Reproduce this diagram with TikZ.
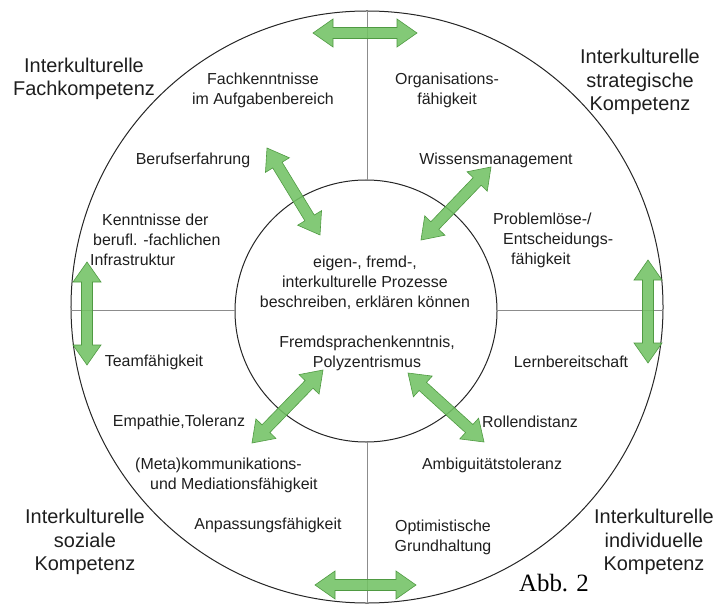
\documentclass[tikz,border=0pt]{standalone}
\usepackage{fontspec}
\setmainfont{Liberation Sans}
\newfontfamily\abbfont{Liberation Serif}
\usetikzlibrary{calc}
\definecolor{arrfill}{HTML}{72C264}
\definecolor{arrline}{HTML}{4F9A42}
\definecolor{txt}{HTML}{1E1E1E}
\tikzset{
  lbl/.style={font=\fontsize{16}{20}\selectfont, text=txt, align=center, inner sep=0pt},
  lblL/.style={lbl, align=left, anchor=west},
  head/.style={font=\fontsize{20}{23.5}\selectfont, text=txt, align=center, inner sep=0pt},
  ring/.style={circle, draw=black!85, line width=1bp, inner sep=0pt, outer sep=0pt},
  divider/.style={draw=black!45, line width=1bp},
  fatarrow/.style={fill=arrfill, fill opacity=0.88, draw=arrline, line width=0.6bp, line join=miter},
}
\newcommand{\greenarrow}[2]{%
  \path[fatarrow] (#1)
    -- ($(#1)!20bp!(#2)!14bp!90:(#2)$)
    -- ($(#1)!20bp!(#2)!5.5bp!90:(#2)$)
    -- ($(#2)!20bp!(#1)!5.5bp!-90:(#1)$)
    -- ($(#2)!20bp!(#1)!14bp!-90:(#1)$)
    -- (#2)
    -- ($(#2)!20bp!(#1)!14bp!90:(#1)$)
    -- ($(#2)!20bp!(#1)!5.5bp!90:(#1)$)
    -- ($(#1)!20bp!(#2)!5.5bp!-90:(#2)$)
    -- ($(#1)!20bp!(#2)!14bp!-90:(#2)$)
    -- cycle;}
\begin{document}
\begin{tikzpicture}[x=1bp, y=-1bp]
\useasboundingbox (0,0) rectangle (716,605);
% rings
\node[ring, minimum size=592bp] (outer) at (367,307) {};
\node[ring, minimum size=262bp] (inner) at (366,311) {};
% dividers
\draw[divider] (outer.north -| 367,0) -- (inner.north -| 367,0);
\draw[divider] (inner.south -| 367,0) -- (outer.south -| 367,0);
\draw[divider] (outer.west |- 0,310) -- (inner.west |- 0,310);
\draw[divider] (inner.east |- 0,310) -- (outer.east |- 0,310);
% arrow end points
\coordinate (ta) at (313,33);  \coordinate (tb) at (417,33);
\coordinate (ba) at (315,585); \coordinate (bb) at (416,585);
\coordinate (la) at (87,262);  \coordinate (lb) at (87,365);
\coordinate (ra) at (648,260); \coordinate (rb) at (648,363);
\coordinate (ula) at (267,148); \coordinate (ulb) at (320,235);
\coordinate (ura) at (491,167); \coordinate (urb) at (421,240);
\coordinate (lla) at (323,370); \coordinate (llb) at (252,443);
\coordinate (lra) at (408,373); \coordinate (lrb) at (484,442);
\greenarrow{ta}{tb}
\greenarrow{ba}{bb}
\greenarrow{la}{lb}
\greenarrow{ra}{rb}
\greenarrow{ula}{ulb}
\greenarrow{ura}{urb}
\greenarrow{lla}{llb}
\greenarrow{lra}{lrb}
% headings
\node[head] (h1) at (84,79) {Interkulturelle\\Fachkompetenz};
\node[head] (h2) at (640,82) {Interkulturelle\\strategische\\Kompetenz};
\node[head] (h3) at (85,542) {Interkulturelle\\soziale\\Kompetenz};
\node[head] (h4) at (654,542) {Interkulturelle\\individuelle\\Kompetenz};
% labels
\node[lbl] (t1) at (263,90) {Fachkenntnisse\\im Aufgabenbereich};
\node[lbl] (t2) at (193,160) {Berufserfahrung};
\node[lblL] (t3) at (90,240) {\hspace{12bp}Kenntnisse der\\\hspace{3bp}berufl. -fachlichen\\Infrastruktur};
\node[lbl] (t4) at (447,90) {Organisations-\\fähigkeit};
\node[lbl] (t5) at (496,160) {Wissensmanagement};
\node[lblL] (t6) at (493,240) {Problemlöse-/\\\hspace{10bp}Entscheidungs-\\\hspace{18bp}fähigkeit};
\node[lbl] (c1) at (365,283) {eigen-, fremd-,\\interkulturelle Prozesse\\beschreiben, erklären können};
\node[lbl] (c2) at (367,353) {Fremdsprachenkenntnis,\\Polyzentrismus};
\node[lbl] (t7) at (154,362) {Teamfähigkeit};
\node[lbl] (t8) at (571,362) {Lernbereitschaft};
\node[lbl] (t9) at (179,422) {Empathie,Toleranz};
\node[lbl] (t10) at (530,422) {Rollendistanz};
\node[lblL] (t11) at (135,475) {(Meta)kommunikations-\\\hspace{15bp}und Mediationsfähigkeit};
\node[lbl] (t12) at (492,465) {Ambiguitätstoleranz};
\node[lbl] (t13) at (268,525) {Anpassungsfähigkeit};
\node[lbl] (t14) at (443,537) {Optimistische\\Grundhaltung};
\node[font=\abbfont\fontsize{25}{28}\selectfont, text=black, inner sep=0pt] (abb) at (554,583) {Abb. 2};
\end{tikzpicture}
\end{document}
